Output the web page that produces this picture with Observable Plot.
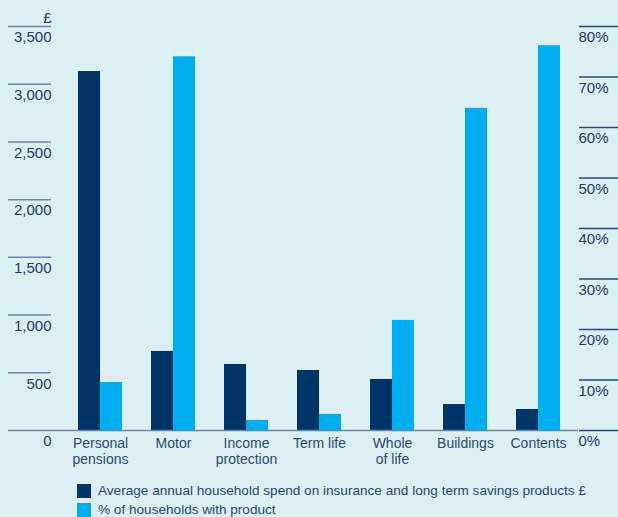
<!DOCTYPE html>
<html>
<head>
<meta charset="utf-8">
<script src="https://cdn.jsdelivr.net/npm/d3@7"></script>
<script src="https://cdn.jsdelivr.net/npm/@observablehq/plot@0.6"></script>
<style>
  html, body { margin: 0; padding: 0; background: #dcf0f4; }
  body { width: 618px; height: 517px; overflow: hidden; font-family: "Liberation Sans", Arial, sans-serif; }
  #chart svg { display: block; }
  #legend { margin-left: 77px; margin-top: 9px; font-size: 13.6px; color: #27466f; }
  #legend .row { display: flex; align-items: center; height: 19px; }
  #legend .sw { width: 14px; height: 14px; margin-right: 7px; flex: none; }
</style>
</head>
<body>
<div id="chart"></div>
<div id="legend"></div>
<script>
// Product categories and their two-line axis labels
const categories = ["Personal pensions", "Motor", "Income protection", "Term life", "Whole of life", "Buildings", "Contents"];
const categoryLabels = ["Personal\npensions", "Motor", "Income\nprotection", "Term life", "Whole\nof life", "Buildings", "Contents"];

// Average annual household spend (£)
const spend = [3110, 685, 572, 520, 442, 225, 182];
// Share of households holding the product (%)
const households = [9.5, 74.0, 2.0, 3.2, 21.8, 63.8, 76.2];

// Axis ticks
const spendTicks = [0, 500, 1000, 1500, 2000, 2500, 3000, 3500];
const percentTicks = [0, 10, 20, 30, 40, 50, 60, 70, 80];

const seriesNames = [
  "Average annual household spend on insurance and long term savings products £",
  "% of households with product"
];

const dark = "#003466";
const light = "#00adef";
const tickLight = "#6487ab";
const tickDark = "#24497a";
const textColor = "#1b3a66";

// Both axes share one vertical extent: £3,500 lines up with 80%
const spendMax = 3500, percentMax = 80;
const k = spendMax / percentMax;

const rows = categories.map((c, i) => ({
  category: c,
  label: categoryLabels[i],
  spend: spend[i],
  pct: households[i]
}));

const chart = Plot.plot({
  width: 618,
  height: 472,
  marginTop: 26,
  marginBottom: 42,
  marginLeft: 51,
  marginRight: 40,
  style: { background: "transparent", fontFamily: "'Liberation Sans', Arial, sans-serif", overflow: "visible" },
  x: { domain: categories, range: [47.6, 589.3], padding: 0.4, axis: null },
  y: { domain: [0, spendMax], axis: null },
  marks: [
    Plot.barY(rows, { x: "category", y: "spend", fill: dark, insetRight: 21.95 }),
    Plot.barY(rows, { x: "category", y: d => d.pct * k, fill: light, insetLeft: 21.95 }),
    Plot.ruleY([0], { stroke: tickLight, strokeWidth: 1.5 }),
    // left (£) axis
    Plot.axisY(spendTicks, { anchor: "left", tickSize: 43, stroke: tickLight, strokeWidth: 1.5, fill: "none", label: null }),
    Plot.axisY(spendTicks, { anchor: "left", tickSize: 0, tickPadding: 0, dy: 11, tickFormat: d3.format(","), fill: textColor, fontSize: 15, label: null }),
    // right (%) axis
    Plot.axisY(percentTicks.map(p => p * k), { anchor: "right", tickSize: 40, stroke: tickDark, strokeWidth: 1.5, fill: "none", label: null }),
    Plot.axisY(percentTicks.map(p => p * k), { anchor: "right", tickSize: 0, tickPadding: 0, dy: 11, tickFormat: v => Math.round(v / k) + "%", fill: textColor, fontSize: 15, label: null }),
    // unit label above the left axis
    Plot.text(["£"], { frameAnchor: "top-left", lineAnchor: "middle", text: d => d, textAnchor: "end", dy: -8, fill: textColor, fontSize: 15 }),
    // category labels
    Plot.text(rows, { x: "category", text: "label", frameAnchor: "bottom", dy: 6, lineAnchor: "top", lineHeight: 1.15, fontSize: 14, fill: "#2a4a72" })
  ]
});
document.getElementById("chart").append(chart);

// legend
const legend = document.getElementById("legend");
[dark, light].forEach((col, i) => {
  const row = document.createElement("div");
  row.className = "row";
  const sw = document.createElement("div");
  sw.className = "sw";
  sw.style.background = col;
  const label = document.createElement("span");
  label.textContent = seriesNames[i];
  row.append(sw, label);
  legend.append(row);
});
</script>
</body>
</html>
